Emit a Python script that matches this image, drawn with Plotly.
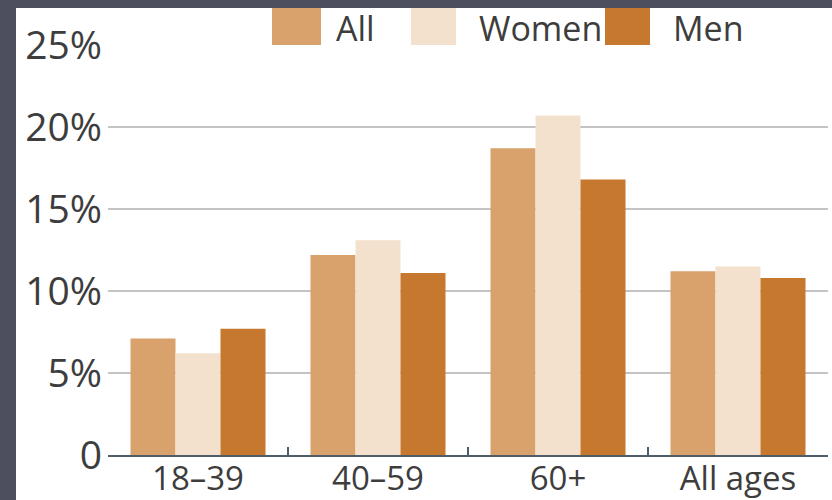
import plotly.graph_objects as go

categories = ["18–39", "40–59", "60+", "All ages"]
series_names = ["All", "Women", "Men"]
all_vals = [7.1, 12.2, 18.7, 11.2]
women_vals = [6.2, 13.1, 20.7, 11.5]
men_vals = [7.7, 11.1, 16.8, 10.8]
y_tickvals = [0, 5, 10, 15, 20, 25]
y_ticktext = ["0", "5%", "10%", "15%", "20%", "25%"]
colors = ["#d9a16c", "#f3e1cd", "#c5782e"]

W, H = 832, 500
ML, MR, MT, MB = 108, 4, 45, 45
PW, PH = W - ML - MR, H - MT - MB


def px_x(p):
    return (p - ML) / PW


def px_y(p):
    return (H - MB - p) / PH


fig = go.Figure()
for name, vals, col in zip(series_names, [all_vals, women_vals, men_vals], colors):
    fig.add_trace(go.Bar(x=categories, y=vals, name=name, marker_color=col,
                         marker_line_width=0, showlegend=False))

font_family = "Open Sans, sans-serif"
text_col = "#3d3d3d"

shapes = []
annotations = []
# custom legend with large swatches
legend_sw = [(272, 321), (411, 456), (605, 650)]
legend_tx = [334, 477, 671]
for (x0, x1), tx, name, col in zip(legend_sw, legend_tx, series_names, colors):
    shapes.append(dict(type="rect", xref="paper", yref="paper",
                       x0=px_x(x0), x1=px_x(x1), y0=px_y(45), y1=px_y(4),
                       fillcolor=col, line_width=0, layer="above"))
    annotations.append(dict(text=name, xref="paper", yref="paper",
                            x=px_x(tx), y=px_y(28), xanchor="left", yanchor="middle",
                            showarrow=False,
                            font=dict(family=font_family, size=34, color=text_col)))
# dark frame edges
frame = "#4d4f5f"
shapes.append(dict(type="rect", xref="paper", yref="paper",
                   x0=px_x(0), x1=px_x(W), y0=px_y(8), y1=px_y(0),
                   fillcolor=frame, line_width=0, layer="above"))
shapes.append(dict(type="rect", xref="paper", yref="paper",
                   x0=px_x(0), x1=px_x(16), y0=px_y(H), y1=px_y(0),
                   fillcolor=frame, line_width=0, layer="above"))

fig.update_layout(
    width=W, height=H,
    margin=dict(l=ML, r=MR, t=MT, b=MB, pad=0, autoexpand=False),
    paper_bgcolor="white", plot_bgcolor="white",
    barmode="group", bargap=0.25, bargroupgap=0,
    shapes=shapes, annotations=annotations,
    showlegend=False,
    font=dict(family=font_family, color=text_col),
)
fig.update_xaxes(
    automargin=False,
    showgrid=False, showline=True, linecolor="#4f5d6b", linewidth=2,
    ticks="inside", tickson="boundaries", ticklen=8, tickwidth=2, tickcolor="#4f5d6b",
    tickfont=dict(family=font_family, size=33, color=text_col),
    ticklabelstandoff=-7,
)
fig.update_yaxes(
    automargin=False,
    range=[0, 25], tickvals=y_tickvals, ticktext=y_ticktext,
    showgrid=True, gridcolor="#c4c4c4", gridwidth=2, zeroline=False,
    showline=False, ticks="",
    tickfont=dict(family=font_family, size=39, color=text_col),
    ticklabelstandoff=5,
)

fig.write_html("out.html")
